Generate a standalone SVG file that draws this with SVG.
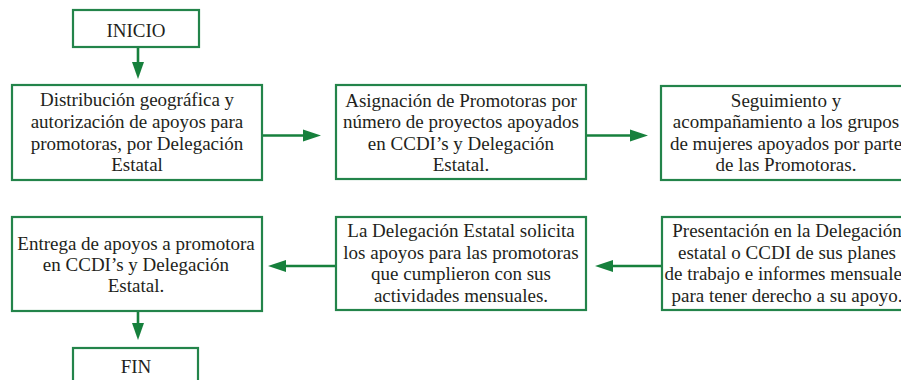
<svg xmlns="http://www.w3.org/2000/svg" width="901" height="380" viewBox="0 0 901 380">
<rect width="901" height="380" fill="#ffffff"/>
<g id="connectors" stroke="#16803c" stroke-width="2.6" fill="#16803c">
<line x1="138" y1="47" x2="138" y2="64"/>
<polygon stroke="none" points="132,62 144,62 138,79"/>
<line x1="262" y1="135.5" x2="306" y2="135.5"/>
<polygon stroke="none" points="303,129.5 303,141.5 321,135.5"/>
<line x1="586" y1="135.5" x2="633" y2="135.5"/>
<polygon stroke="none" points="630,129.5 630,141.5 648,135.5"/>
<line x1="661" y1="266" x2="610" y2="266"/>
<polygon stroke="none" points="613,260 613,272 595,266"/>
<line x1="336" y1="266" x2="283" y2="266"/>
<polygon stroke="none" points="286,260 286,272 268,266"/>
<line x1="138" y1="311" x2="138" y2="325"/>
<polygon stroke="none" points="132,323 144,323 138,340"/>
</g>
<g font-family="Liberation Serif" font-size="19" text-anchor="middle">
<g id="inicio">
<rect x="73" y="10" width="126" height="37" fill="#ffffff" stroke="#23844a" stroke-width="2.2"/>
<text x="136" y="37" fill="#231f20">INICIO</text>
</g>
<g id="n1">
<rect x="12" y="85" width="250" height="95" fill="#ffffff" stroke="#23844a" stroke-width="2.2"/>
<text x="137" y="106" fill="#231f20">Distribución geográfica y</text>
<text x="137" y="128" fill="#231f20">autorización de apoyos para</text>
<text x="137" y="150" fill="#231f20">promotoras, por Delegación</text>
<text x="137" y="171" fill="#231f20">Estatal</text>
</g>
<g id="n2">
<rect x="336" y="85" width="250" height="94" fill="#ffffff" stroke="#23844a" stroke-width="2.2"/>
<text x="461" y="107" fill="#231f20">Asignación de Promotoras por</text>
<text x="461" y="128" fill="#231f20">número de proyectos apoyados</text>
<text x="461" y="150" fill="#231f20">en CCDI’s y Delegación</text>
<text x="461" y="171" fill="#231f20">Estatal.</text>
</g>
<g id="n3">
<rect x="661" y="86" width="252" height="94" fill="#ffffff" stroke="#23844a" stroke-width="2.2"/>
<text x="786" y="107" fill="#231f20">Seguimiento y</text>
<text x="786" y="128" fill="#231f20">acompañamiento a los grupos</text>
<text x="786" y="150" fill="#231f20">de mujeres apoyados por parte</text>
<text x="786" y="171" fill="#231f20">de las Promotoras.</text>
</g>
<g id="n4">
<rect x="12" y="217" width="250" height="94" fill="#ffffff" stroke="#23844a" stroke-width="2.2"/>
<text x="136" y="250" fill="#231f20">Entrega de apoyos a promotora</text>
<text x="136" y="271" fill="#231f20">en CCDI’s y Delegación</text>
<text x="136" y="292" fill="#231f20">Estatal.</text>
</g>
<g id="n5">
<rect x="336" y="217" width="250" height="93" fill="#ffffff" stroke="#23844a" stroke-width="2.2"/>
<text x="461" y="237" fill="#231f20">La Delegación Estatal solicita</text>
<text x="461" y="258.5" fill="#231f20">los apoyos para las promotoras</text>
<text x="461" y="280" fill="#231f20">que cumplieron con sus</text>
<text x="461" y="301.5" fill="#231f20">actividades mensuales.</text>
</g>
<g id="n6">
<rect x="662" y="217" width="252" height="93" fill="#ffffff" stroke="#23844a" stroke-width="2.2"/>
<text x="787" y="237" fill="#231f20">Presentación en la Delegación</text>
<text x="787" y="258.5" fill="#231f20">estatal o CCDI de sus planes</text>
<text x="787" y="280" fill="#231f20">de trabajo e informes mensuales</text>
<text x="787" y="301.5" fill="#231f20">para tener derecho a su apoyo.</text>
</g>
<g id="fin">
<rect x="73" y="348" width="125" height="40" fill="#ffffff" stroke="#23844a" stroke-width="2.2"/>
<text x="136" y="373" fill="#231f20">FIN</text>
</g>
</g>
</svg>
